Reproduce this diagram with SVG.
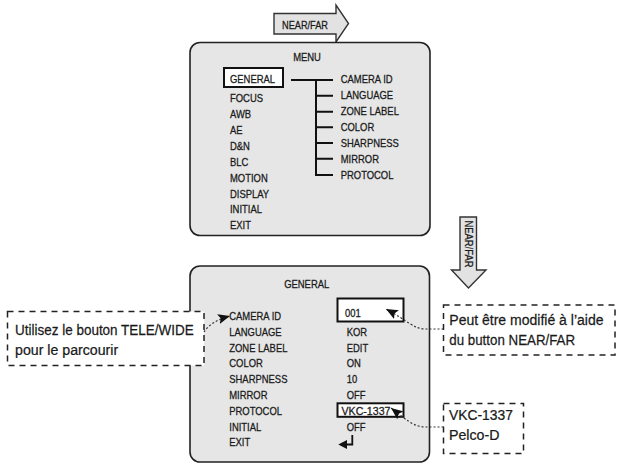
<svg xmlns="http://www.w3.org/2000/svg" width="617" height="464" viewBox="0 0 617 464">
<defs>
<style>
.scr{fill:#e6e6e6;stroke:#222;stroke-width:1.6}
.arr{fill:#e2e2e2;stroke:#333;stroke-width:1.4}
.t{font-family:"Liberation Sans",Arial,sans-serif;font-size:11.8px;fill:#1a1a1a;stroke:#1a1a1a;stroke-width:0.3}
.c{font-family:"Liberation Sans",Arial,sans-serif;font-size:15.5px;fill:#1a1a1a;stroke:#1a1a1a;stroke-width:0.25}
.hl{fill:#fff;stroke:#111;stroke-width:2}
.tree{fill:none;stroke:#111;stroke-width:2}
.call{fill:#fff;stroke:#222;stroke-width:1.5;stroke-dasharray:6 5}
.dot{fill:none;stroke:#333;stroke-width:1.2;stroke-dasharray:2 2}
</style>
<marker id="ah" markerUnits="userSpaceOnUse" markerWidth="13" markerHeight="10" refX="12" refY="5" orient="auto">
<path d="M0,0 L12,5 L0,10 L2.5,5 z" fill="#111"/>
</marker>
</defs>

<g id="arrow-near-far-top">
<polygon class="arr" points="274,13.5 336,13.5 336,5 348.5,23.5 336,42 336,34 274,34"/>
<text class="t" font-size="13" text-anchor="middle" transform="translate(305,28.5) scale(0.78,1)">NEAR/FAR</text>
</g>

<g id="menu-screen">
<rect class="scr" x="190" y="42.5" width="240" height="193" rx="10"/>
<rect class="hl" x="224" y="68" width="59" height="19"/>
<path class="tree" d="M291,80 H333 M316,80 V175 H333 M316,95.7 H333 M316,111.7 H333 M316,127.3 H333 M316,143 H333 M316,158.7 H333"/>
<g transform="scale(0.8,1)">
<text class="t" font-size="12.5" x="383.8" y="60.7" text-anchor="middle">MENU</text>
<text class="t" x="287.5" y="83.3">GENERAL</text>
<text class="t" x="287.5" y="102">FOCUS</text>
<text class="t" x="287.5" y="118">AWB</text>
<text class="t" x="287.5" y="134">AE</text>
<text class="t" x="287.5" y="150">D&amp;N</text>
<text class="t" x="287.5" y="166">BLC</text>
<text class="t" x="287.5" y="182">MOTION</text>
<text class="t" x="287.5" y="197.7">DISPLAY</text>
<text class="t" x="287.5" y="213.5">INITIAL</text>
<text class="t" x="287.5" y="229.5">EXIT</text>
<text class="t" x="425.9" y="83.5">CAMERA ID</text>
<text class="t" x="425.9" y="99.5">LANGUAGE</text>
<text class="t" x="425.9" y="115.3">ZONE LABEL</text>
<text class="t" x="425.9" y="131">COLOR</text>
<text class="t" x="425.9" y="147">SHARPNESS</text>
<text class="t" x="425.9" y="163">MIRROR</text>
<text class="t" x="425.9" y="179">PROTOCOL</text>
</g>
</g>

<g id="arrow-near-far-down">
<polygon class="arr" points="460,217 476.5,217 476.5,270 486,270 468.5,288 451.5,270 460,270"/>
<text class="t" font-size="12" text-anchor="middle" transform="translate(468.5,244) rotate(90) scale(0.8,1) translate(0,4)">NEAR/FAR</text>
</g>

<g id="general-screen">
<rect class="scr" x="190" y="266" width="239.5" height="196" rx="10"/>
<rect class="hl" x="337.5" y="298.5" width="66" height="23"/>
<rect class="hl" x="337.5" y="403.3" width="66" height="13.5"/>
<g transform="scale(0.8,1)">
<text class="t" font-size="12.5" x="383.4" y="288.3" text-anchor="middle">GENERAL</text>
<text class="t" x="286.6" y="320">CAMERA ID</text>
<text class="t" x="286.6" y="335.8">LANGUAGE</text>
<text class="t" x="286.6" y="351.6">ZONE LABEL</text>
<text class="t" x="286.6" y="367.4">COLOR</text>
<text class="t" x="286.6" y="383.2">SHARPNESS</text>
<text class="t" x="286.6" y="399">MIRROR</text>
<text class="t" x="286.6" y="414.8">PROTOCOL</text>
<text class="t" x="286.6" y="430.6">INITIAL</text>
<text class="t" x="286.6" y="446.4">EXIT</text>
<text class="t" x="431.3" y="316.7">001</text>
<text class="t" x="433.4" y="335.8">KOR</text>
<text class="t" x="433.4" y="351.6">EDIT</text>
<text class="t" x="433.4" y="367.4">ON</text>
<text class="t" x="433.4" y="383.2">10</text>
<text class="t" x="433.4" y="399">OFF</text>
<text class="t" x="433.4" y="430.6">OFF</text>
</g>
<text class="t" font-size="12.5" transform="translate(341.5,414.5) scale(0.9,1)">VKC-1337</text>
<path d="M352.3,435 V444.5 H345" fill="none" stroke="#111" stroke-width="1.8"/>
<polygon points="338.3,444.5 347,440 347,449" fill="#111"/>
</g>

<g id="callout-tele-wide">
<rect class="call" x="7.5" y="311.5" width="196.5" height="54"/>
<text class="c" transform="translate(15,335) scale(0.87,1)">Utilisez le bouton TELE/WIDE</text>
<text class="c" transform="translate(15,355) scale(0.915,1)">pour le parcourir</text>
</g>

<g id="callout-near-far">
<rect class="call" x="443.5" y="305" width="171.5" height="50"/>
<text class="c" transform="translate(449.3,325) scale(0.905,1)">Peut être modifié à l’aide</text>
<text class="c" transform="translate(449.3,345) scale(0.86,1)">du button NEAR/FAR</text>
</g>

<g id="callout-protocol">
<rect class="call" x="443.5" y="403.5" width="80" height="50"/>
<text class="c" transform="translate(449,420) scale(0.895,1)">VKC-1337</text>
<text class="c" transform="translate(449,440) scale(0.915,1)">Pelco-D</text>
</g>

<g id="connectors">
<path class="dot" d="M204,332 Q211,321 230,316" marker-end="url(#ah)"/>
<path class="dot" d="M443.5,329 L425,329 C414,329 408,321 386,309" marker-end="url(#ah)"/>
<path class="dot" d="M443.5,427 L425,427 C414,427 405,419 391,408" marker-end="url(#ah)"/>
</g>
</svg>
